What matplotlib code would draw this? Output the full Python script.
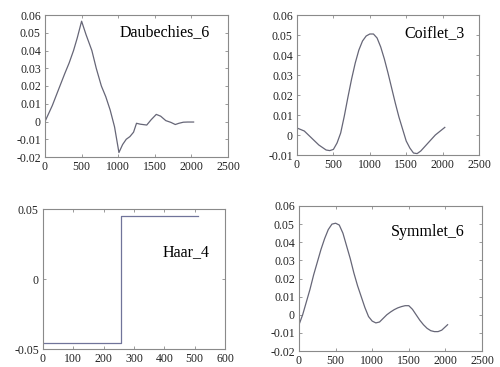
import numpy as np
from matplotlib import pyplot as plt

# Daubechies_6
db_x = [0, 100, 180, 270, 330, 390, 440, 500, 560, 640, 700, 770, 830, 890, 950,
        1010, 1060, 1110, 1160, 1210, 1250, 1300, 1390, 1450, 1520, 1580, 1650,
        1720, 1780, 1830, 1890, 1950, 2030]
db_y = [0, 0.009, 0.0175, 0.027, 0.033, 0.040, 0.047, 0.0565, 0.049, 0.040, 0.030,
        0.020, 0.014, 0.0065, -0.003, -0.0175, -0.013, -0.010, -0.0085, -0.006,
        -0.001, -0.0015, -0.002, 0.001, 0.004, 0.003, 0.0005, -0.0005, -0.0017,
        -0.001, -0.0004, -0.0003, -0.0003]

# Coiflet_3
cf_x = [0, 100, 200, 300, 400, 450, 500, 550, 600, 650, 700, 750, 800, 850, 900,
        950, 1000, 1050, 1100, 1150, 1200, 1250, 1300, 1350, 1400, 1450, 1500,
        1550, 1600, 1650, 1700, 1800, 1900, 2030]
cf_y = [0.0035, 0.002, -0.0015, -0.005, -0.0075, -0.0078, -0.0072, -0.004, 0.001,
        0.0095, 0.019, 0.028, 0.036, 0.0425, 0.047, 0.0495, 0.0505, 0.0505, 0.0485,
        0.044, 0.038, 0.031, 0.0235, 0.016, 0.009, 0.003, -0.003, -0.0065, -0.009,
        -0.0093, -0.008, -0.004, 0.0, 0.0038]

# Haar_4
haar_x = [0, 256, 256, 511]
haar_y = [-0.0455, -0.0455, 0.0448, 0.0448]

# Symmlet_6
sy_x = [0, 50, 100, 150, 200, 250, 300, 350, 400, 450, 500, 550, 600, 650, 700,
        750, 800, 850, 900, 950, 1000, 1050, 1100, 1150, 1200, 1250, 1300, 1350,
        1400, 1450, 1500, 1550, 1600, 1650, 1700, 1750, 1800, 1850, 1900, 1950, 2030]
sy_y = [-0.0055, 0.0, 0.007, 0.014, 0.022, 0.029, 0.036, 0.042, 0.047, 0.050,
        0.0505, 0.0495, 0.045, 0.038, 0.031, 0.023, 0.016, 0.010, 0.004, -0.001,
        -0.0035, -0.0045, -0.004, -0.002, 0.0, 0.0015, 0.0028, 0.0038, 0.0045,
        0.005, 0.005, 0.003, 0.0, -0.003, -0.0055, -0.0075, -0.0088, -0.0093,
        -0.0093, -0.0085, -0.0055]

plt.rcParams['font.family'] = ['Liberation Serif', 'DejaVu Serif']
W, H = 500, 367
fig = plt.figure(figsize=(5, 3.67), dpi=100)

def px_axes(l, t, r, b):
    return fig.add_axes([l / W, 1 - b / H, (r - l) / W, (b - t) / H])

line_col = '#666677'

def style(ax):
    for s in ax.spines.values():
        s.set_color('#8a8a8a')
        s.set_linewidth(0.8)
    ax.tick_params(direction='in', length=2, width=0.6, color='#8a8a8a',
                   top=True, right=True, labelsize=8.5, labelcolor='#222222', pad=3)

ax1 = px_axes(45, 15, 228, 157)
ax1.plot(db_x, db_y, color=line_col, lw=0.9)
ax1.set_xlim(0, 2500)
ax1.set_ylim(-0.02, 0.06)
ax1.set_xticks(np.arange(0, 2501, 500))
ax1.set_yticks(np.arange(-0.02, 0.0601, 0.01))
ax1.set_yticklabels(['-0.02', '-0.01', '0', '0.01', '0.02', '0.03', '0.04', '0.05', '0.06'])
ax1.text(0.656, 0.88, 'Daubechies_6', transform=ax1.transAxes, ha='center', va='center', fontsize=11.5)
style(ax1)

ax2 = px_axes(297, 15, 479, 155)
ax2.plot(cf_x, cf_y, color=line_col, lw=0.9)
ax2.set_xlim(0, 2500)
ax2.set_ylim(-0.01, 0.06)
ax2.set_xticks(np.arange(0, 2501, 500))
ax2.set_yticks(np.arange(-0.01, 0.0601, 0.01))
ax2.set_yticklabels(['-0.01', '0', '0.01', '0.02', '0.03', '0.04', '0.05', '0.06'])
ax2.text(0.753, 0.87, 'Coiflet_3', transform=ax2.transAxes, ha='center', va='center', fontsize=11.5)
style(ax2)

ax3 = px_axes(43, 209, 225, 349)
ax3.plot(haar_x, haar_y, color='#70749a', lw=0.9)
ax3.set_xlim(0, 600)
ax3.set_ylim(-0.05, 0.05)
ax3.set_xticks(np.arange(0, 601, 100))
ax3.set_yticks([-0.05, 0, 0.05])
ax3.set_yticklabels(['-0.05', '0', '0.05'])
ax3.text(0.786, 0.69, 'Haar_4', transform=ax3.transAxes, ha='center', va='center', fontsize=11.5)
style(ax3)

ax4 = px_axes(299, 206, 482, 351)
ax4.plot(sy_x, sy_y, color=line_col, lw=0.9)
ax4.set_xlim(0, 2500)
ax4.set_ylim(-0.02, 0.06)
ax4.set_xticks(np.arange(0, 2501, 500))
ax4.set_yticks(np.arange(-0.02, 0.0601, 0.01))
ax4.set_yticklabels(['-0.02', '-0.01', '0', '0.01', '0.02', '0.03', '0.04', '0.05', '0.06'])
ax4.text(0.705, 0.82, 'Symmlet_6', transform=ax4.transAxes, ha='center', va='center', fontsize=11.5)
style(ax4)

fig.savefig('out.png', dpi=100)
